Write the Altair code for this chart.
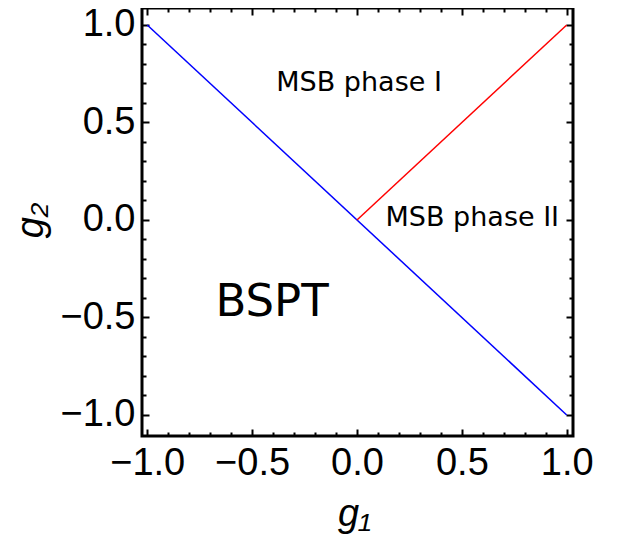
import altair as alt
import pandas as pd

# phase boundary lines
line_names = ["blue", "blue", "red", "red"]
line_g1 = [-1.0, 1.0, 0.0, 1.0]
line_g2 = [1.0, -1.0, 0.0, 1.0]
line_domain = ["blue", "red"]
line_colors = ["#0000ff", "#ff0000"]

# region labels
phase_labels = ["MSB phase I", "MSB phase II"]
phase_g1 = [0.01, 0.55]
phase_g2 = [0.70, 0.01]
bspt_labels = ["BSPT"]
bspt_g1 = [-0.405]
bspt_g2 = [-0.42]

# ticks
major_ticks = [-1.0, -0.5, 0.0, 0.5, 1.0]
minor_ticks = [-0.9, -0.8, -0.7, -0.6, -0.4, -0.3, -0.2, -0.1,
               0.1, 0.2, 0.3, 0.4, 0.6, 0.7, 0.8, 0.9]

x_domain = [-1.025, 1.03]
y_domain = [-1.108, 1.087]

lines_df = pd.DataFrame({"line": line_names, "g1": line_g1, "g2": line_g2})
phase_df = pd.DataFrame({"label": phase_labels, "g1": phase_g1, "g2": phase_g2})
bspt_df = pd.DataFrame({"label": bspt_labels, "g1": bspt_g1, "g2": bspt_g2})

W, H = 431, 428
LABEL_FONT = "Liberation Sans"
label_expr = "replace(format(datum.value, '.1f'), '-', '\u2212')"


def xs(axis):
    return alt.X("g1:Q", scale=alt.Scale(domain=x_domain, nice=False, zero=False), axis=axis)


def ys(axis):
    return alt.Y("g2:Q", scale=alt.Scale(domain=y_domain, nice=False, zero=False), axis=axis)


main_x_axis = alt.Axis(
    orient="bottom", values=major_ticks, labelExpr=label_expr,
    labelFont=LABEL_FONT, labelFontSize=38, labelColor="black", labelPadding=8,
    labelFlush=False, labelOverlap=False, ticks=False, domain=False, grid=False,
    title="g\u2081", titleFont=LABEL_FONT, titleFontSize=38, titleFontStyle="italic",
    titleFontWeight="normal", titleColor="black", titleX=212, titleY=78,
    titleAlign="center", titleBaseline="middle",
)
main_y_axis = alt.Axis(
    orient="left", values=major_ticks, labelExpr=label_expr,
    labelFont=LABEL_FONT, labelFontSize=38, labelColor="black", labelPadding=7,
    labelFlush=False, labelOverlap=False, ticks=False, domain=False, grid=False,
    title="g\u2082", titleFont=LABEL_FONT, titleFontSize=38, titleFontStyle="italic",
    titleFontWeight="normal", titleColor="black", titleX=-111, titleY=212,
    titleAngle=270, titleAlign="center", titleBaseline="middle",
)

main = alt.Chart(lines_df).mark_line(strokeWidth=1.5).encode(
    x=xs(main_x_axis),
    y=ys(main_y_axis),
    color=alt.Color("line:N", scale=alt.Scale(domain=line_domain, range=line_colors), legend=None),
    detail="line:N",
)


def tick_axis(orient, values, size):
    return alt.Axis(orient=orient, values=values, labels=False, domain=False, grid=False,
                    title=None, ticks=True, tickSize=size, offset=-size,
                    tickWidth=2, tickColor="black")


def tick_layer(xorient, yorient, values, size):
    return alt.Chart(lines_df).mark_line(opacity=0).encode(
        x=xs(tick_axis(xorient, values, size)),
        y=ys(tick_axis(yorient, values, size)),
        detail="line:N",
    )


t1 = tick_layer("bottom", "left", major_ticks, 7)
t2 = tick_layer("top", "right", major_ticks, 7)
t3 = tick_layer("bottom", "left", minor_ticks, 4)
t4 = tick_layer("top", "right", minor_ticks, 4)

phase_text = alt.Chart(phase_df).mark_text(
    font="DejaVu Sans", fontSize=27, color="black", align="center", baseline="middle"
).encode(x=xs(None), y=ys(None), text="label:N")

bspt_text = alt.Chart(bspt_df).mark_text(
    font="DejaVu Sans", fontSize=45, color="black", align="center", baseline="middle"
).encode(x=xs(None), y=ys(None), text="label:N")

chart = alt.layer(main, t1, t2, t3, t4, phase_text, bspt_text).resolve_scale(
    x="independent", y="independent"
).resolve_axis(
    x="independent", y="independent"
).properties(
    width=W, height=H,
    autosize=alt.AutoSizeParams(type="none"),
    padding={"left": 134, "top": 0, "right": 39, "bottom": 100},
    background="white",
).configure_view(stroke="black", strokeWidth=3)

chart.save("out.html", embed_options={"renderer": "svg", "actions": False})
